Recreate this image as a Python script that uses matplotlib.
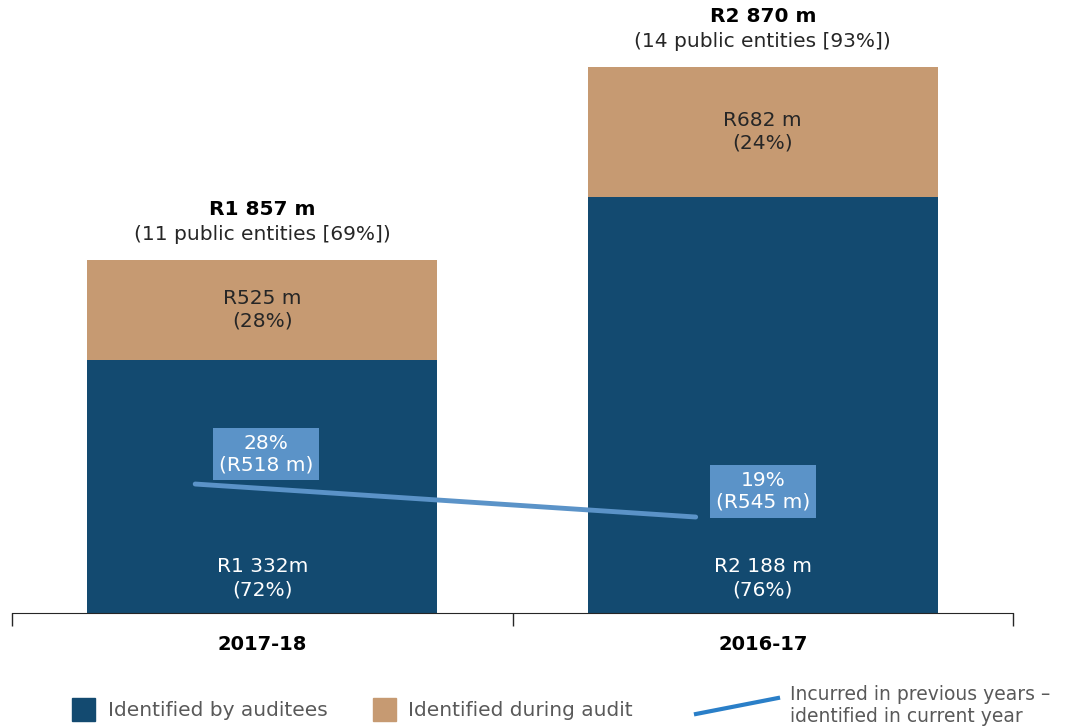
import numpy as np
import matplotlib
matplotlib.use('Agg')
import matplotlib.pyplot as plt
from matplotlib.lines import Line2D
from matplotlib.patches import Rectangle

# Irregular expenditure, split by who picked it up
years = ['2017-18', '2016-17']
by_auditees = [1332, 2188]
during_audit = [525, 682]
totals = [1857, 2870]
entities = [11, 14]
entities_pct = [69, 93]
auditees_labels = ['R1 332m\n(72%)', 'R2 188 m\n(76%)']
audit_labels = ['R525 m\n(28%)', 'R682 m\n(24%)']
total_labels = ['R1 857 m', 'R2 870 m']
prev_pct = [28, 19]
prev_amount = [518, 545]

dark_blue = '#134a70'
tan = '#c69a72'
light_blue = '#5b93c8'
grey_text = '#595959'

plt.rcParams['font.family'] = ['DejaVu Sans']

fig = plt.figure(figsize=(10.67, 7.27), dpi=100)
ax = fig.add_axes([12 / 1067, 1 - 613 / 727, 1001 / 1067, 603 / 727])

x = np.arange(len(years))
w = 0.7
ax.bar(x, by_auditees, w, color=dark_blue, zorder=2)
ax.bar(x, during_audit, w, bottom=by_auditees, color=tan, zorder=2)
ax.set_xlim(-0.5, 1.5)
ax.set_ylim(0, 3170)

for i in x:
    ax.annotate(auditees_labels[i], (i, 0), xytext=(0, 25), textcoords='offset points',
                ha='center', va='center', color='white', fontsize=14.5,
                linespacing=1.25, zorder=5)
    ax.text(i, by_auditees[i] + during_audit[i] / 2, audit_labels[i],
            ha='center', va='center', color='#262626', fontsize=14.5,
            linespacing=1.2, zorder=5)
    ax.annotate(total_labels[i], (i, totals[i]), xytext=(0, 36.5),
                textcoords='offset points', ha='center', va='center',
                fontsize=14.5, fontweight='bold', color='black')
    ax.annotate('({} public entities [{}%])'.format(entities[i], entities_pct[i]),
                (i, totals[i]), xytext=(0, 18.5), textcoords='offset points',
                ha='center', va='center', fontsize=14.5, color='#262626')

# axis: baseline with ticks between the categories
for s in ['top', 'right', 'left']:
    ax.spines[s].set_visible(False)
ax.spines['bottom'].set_color('#262626')
ax.set_yticks([])
ax.set_xticks([-0.5, 0.5, 1.5])
ax.set_xticklabels([])
ax.tick_params(axis='x', length=9, color='#262626', width=1)
for i in x:
    ax.text(i, -0.053, years[i], transform=ax.get_xaxis_transform(),
            ha='center', va='center', fontsize=14, fontweight='bold')

# previous-years share on its own scale
ax2 = ax.twinx()
ax2.set_ylim(-7.18, 157.3)
ax2.axis('off')
lx = x - 0.134
ax2.plot(lx, prev_pct, color=light_blue, lw=3.5, solid_capstyle='round', zorder=3)
box_y = [36.2, 26.0]
box_dx = [0.008, 0.0]
for i in x:
    ax2.text(i + box_dx[i], box_y[i], '{}%\n(R{} m)'.format(prev_pct[i], prev_amount[i]),
             ha='center', va='center', color='white', fontsize=14.5,
             linespacing=1.15, zorder=6,
             bbox=dict(boxstyle='square,pad=0.3', fc=light_blue, ec='none'))

# legend
fig.add_artist(Rectangle((72 / 1067, 1 - 721 / 727), 23 / 1067, 23 / 727,
                         transform=fig.transFigure, color=dark_blue))
fig.text(108 / 1067, 1 - 710 / 727, 'Identified by auditees', va='center',
         fontsize=14.5, color=grey_text)
fig.add_artist(Rectangle((373 / 1067, 1 - 721 / 727), 23 / 1067, 23 / 727,
                         transform=fig.transFigure, color=tan))
fig.text(408 / 1067, 1 - 710 / 727, 'Identified during audit', va='center',
         fontsize=14.5, color=grey_text)
fig.add_artist(Line2D([696 / 1067, 778 / 1067], [1 - 714 / 727, 1 - 698 / 727],
                      transform=fig.transFigure, color='#2a7fc8', lw=3))
fig.text(790 / 1067, 1 - 705 / 727, 'Incurred in previous years –\nidentified in current year',
         va='center', fontsize=13.5, color=grey_text, linespacing=1.2)

fig.savefig('out.png', dpi=100)
